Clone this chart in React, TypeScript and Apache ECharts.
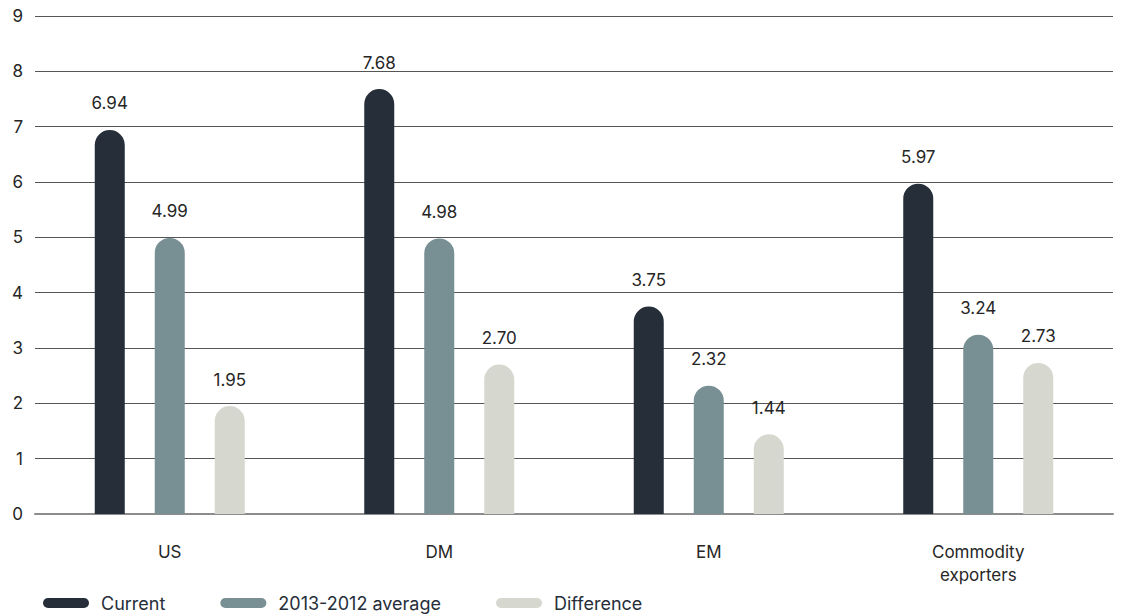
import React, { useEffect, useRef } from "react";
import * as echarts from "echarts";

const categories = ["US", "DM", "EM", "Commodity\nexporters"];
const currentValues = [6.94, 7.68, 3.75, 5.97];
const averageValues = [4.99, 4.98, 2.32, 3.24];
const differenceValues = [1.95, 2.7, 1.44, 2.73];
const seriesNames = ["Current", "2013-2012 average", "Difference"];
const seriesColors = ["#262e39", "#788f94", "#d6d7ce"];
const yTicks = { min: 0, max: 9, interval: 1 };

const FONT = "Inter, 'Noto Sans', sans-serif";

export default function App() {
  const ref = useRef<HTMLDivElement>(null);
  useEffect(() => {
    if (!ref.current) return;
    const chart = echarts.init(ref.current, undefined, { renderer: "svg" });
    const data = [currentValues, averageValues, differenceValues];
    const legendIcon = "path://M5,0 H41 A5,5 0 0 1 41,10 H5 A5,5 0 0 1 5,0 Z";
    chart.setOption({
      animation: false,
      textStyle: { fontFamily: FONT },
      grid: { left: 35, right: 8, top: 16, bottom: 102, containLabel: false },
      legend: {
        left: 38,
        top: 589,
        itemWidth: 46,
        itemHeight: 10,
        itemGap: 55,
        icon: legendIcon,
        textStyle: { fontFamily: FONT, fontSize: 18, color: "#262e39", padding: [0, 0, 0, 7] },
        data: seriesNames,
      },
      xAxis: {
        type: "category",
        data: categories,
        axisTick: { show: false },
        axisLine: { show: true, lineStyle: { color: "#8c8c8c", width: 2 } },
        axisLabel: {
          margin: 26,
          fontFamily: FONT,
          fontSize: 17,
          color: "#262626",
          lineHeight: 23,
        },
      },
      yAxis: {
        type: "value",
        min: yTicks.min,
        max: yTicks.max,
        interval: yTicks.interval,
        axisLine: { show: false },
        axisTick: { show: false },
        splitLine: { lineStyle: { color: "#555555", width: 1 } },
        axisLabel: { margin: 12, fontFamily: FONT, fontSize: 17, color: "#262626" },
      },
      series: seriesNames.map((name, i) => ({
        name,
        type: "bar",
        data: data[i],
        barWidth: 30,
        barGap: "100%",
        itemStyle: { color: seriesColors[i], borderRadius: [15, 15, 0, 0] },
        label: {
          show: true,
          position: "top",
          distance: 18,
          fontFamily: FONT,
          fontSize: 17,
          color: "#262626",
          formatter: (p: any) => Number(p.value).toFixed(2),
        },
      })),
    });
    return () => chart.dispose();
  }, []);
  return (
    <div
      ref={ref}
      style={{ position: "fixed", left: 0, top: 0, width: 1121, height: 616, background: "#fff" }}
    />
  );
}
